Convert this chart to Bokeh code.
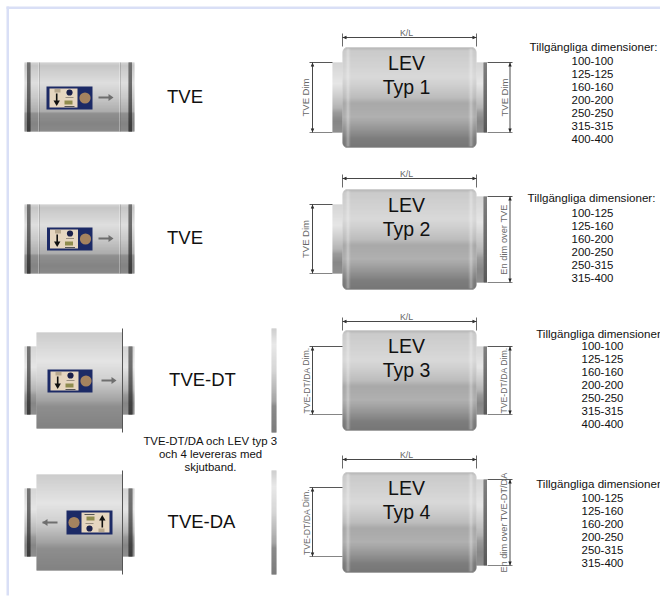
from math import pi, sqrt
from bokeh.plotting import figure
from bokeh.models import Range1d, ColumnDataSource
from bokeh.core.properties import value
from bokeh.embed import file_html
from bokeh.resources import INLINE

# ---- content ----
tve_labels = ["TVE", "TVE", "TVE-DT", "TVE-DA"]
lev_names = ["LEV", "LEV", "LEV", "LEV"]
lev_types = ["Typ 1", "Typ 2", "Typ 3", "Typ 4"]
dim_title = ["Tillgängliga dimensioner:", "Tillgängliga dimensioner:", "Tillgängliga dimensioner", "Tillgängliga dimensioner"]
dims_1 = ["100-100", "125-125", "160-160", "200-200", "250-250", "315-315", "400-400"]
dims_2 = ["100-125", "125-160", "160-200", "200-250", "250-315", "315-400"]
left_dim = ["TVE Dim", "TVE Dim", "TVE-DT/DA Dim.", "TVE-DT/DA Dim."]
right_dim = ["TVE Dim", "En dim over TVE", "TVE-DT/DA Dim.", "En dim over TVE-DT/DA"]
left_size = [9.5, 9.5, 8.7, 8.7]
right_size = [9.5, 9.3, 8.7, 9.2]
note_lines = ["TVE-DT/DA och LEV typ 3", "och 4 levereras med", "skjutband."]

# ---- gradients (pixel-space drawing) ----
TVE_G = [(0, 195), (.04, 180), (.3, 212), (.5, 185), (.72, 145), (.74, 108), (.9, 92), (1, 100)]
LEV_G = [(0, 160), (.03, 185), (.3, 205), (.5, 168), (.56, 140), (.7, 150), (.82, 115), (.92, 82), (1, 75)]
NECK_G = [(0, 200), (.3, 222), (.5, 185), (.65, 155), (.72, 122), (.85, 95), (1, 105)]
BAR_G = [(0, 190), (.15, 225), (.4, 200), (.7, 135), (.75, 100), (1, 80)]
BAND_G = [(0, 85), (.5, 60), (1, 35)]

q = dict(l=[], r=[], t=[], b=[], c=[], a=[])
poly = dict(x=[], y=[], c=[])
seg = dict(x0=[], y0=[], x1=[], y1=[], c=[], w=[])
circ = dict(x=[], y=[], r=[], c=[])
txt = dict(x=[], y=[], s=[], size=[], c=[], angle=[])


def gray(stops, t):
    for (a, ga), (b, gb) in zip(stops, stops[1:]):
        if t <= b:
            g = int(ga + (gb - ga) * (t - a) / max(b - a, 1e-6))
            return f"#{g:02x}{g:02x}{g:02x}"
    g = stops[-1][1]
    return f"#{g:02x}{g:02x}{g:02x}"


def rect(l, r, t, b, c, a=1.0):
    q["l"].append(l); q["r"].append(r); q["t"].append(t); q["b"].append(b); q["c"].append(c); q["a"].append(a)


def grad(l, r, t, b, stops, rad=0):
    n = int(b - t)
    for i in range(n):
        inset = 0
        d = min(i + .5, n - i - .5)
        if rad and d < rad:
            inset = rad - sqrt(rad * rad - (rad - d) ** 2)
        rect(l + inset, r - inset, t + i, t + i + 1, gray(stops, i / max(n - 1, 1)))


def line(x0, y0, x1, y1, c="#3a3a3a", w=1.0):
    seg["x0"].append(x0); seg["y0"].append(y0); seg["x1"].append(x1); seg["y1"].append(y1); seg["c"].append(c); seg["w"].append(w)


def label(x, y, s, size, c="#111111", angle=0.0):
    txt["x"].append(x); txt["y"].append(y); txt["s"].append(s); txt["size"].append(f"{size}px")
    txt["c"].append(c); txt["angle"].append(angle)


def tri(xs, ys, c):
    poly["x"].append(xs); poly["y"].append(ys); poly["c"].append(c)


def controller(x0, y0, w, h, flip=False):
    def X(v): return x0 + (w - v if flip else v)
    def Y(v): return y0 + (h - v if flip else v)
    def box(a, b, c, d, col):
        xa, xb = sorted((X(a), X(b))); ya, yb = sorted((Y(c), Y(d)))
        rect(xa, xb, ya, yb, col)
    box(0, w, 0, h, "#1c2a66")
    box(3, 31, 2, h - 2, "#e6d6c0")
    box(8, 14, 2.5, 6, "#b8a88e")
    box(18, 26, 14, 18, "#8f8c4e")
    box(18, 28, 19.5, 20.5, "#555555")
    box(19, 27, 10.5, 11.5, "#9a8f80")
    box(9.4, 11, 7, 15, "#101010")
    tri([X(7), X(13.4), X(10.2)], [Y(14), Y(14), Y(19.5)], "#101010")
    circ["x"].append(X(23)); circ["y"].append(Y(6)); circ["r"].append(3.1); circ["c"].append("#1a1f4a")
    circ["x"].append(X(38.5)); circ["y"].append(Y(h / 2)); circ["r"].append(5.6); circ["c"].append("#a5835f")


def arrow(x0, x1, y):
    d = 1 if x1 > x0 else -1
    rect(min(x0, x1), max(x0, x1) - (3 if d > 0 else 0), y - .9, y + .9, "#6e6e6e")
    tri([x1, x1 - 5 * d, x1 - 5 * d], [y, y - 3.5, y + 3.5], "#6e6e6e")


def ends(l, r, t, b):
    grad(l + 2.5, l + 6, t, b, BAND_G)
    grad(r - 6, r - 2.5, t, b, BAND_G)


def tve_plain(y0):
    y1 = y0 + 69
    grad(24, 134, y0, y1, TVE_G)
    ends(24, 134, y0, y1)
    for x in (37.5, 118.5):
        rect(x, x + 1, y0, y1, "#ffffff", .3)
        rect(x + 1, x + 2, y0, y1, "#555555", .25)


def tve_big(yb0):
    yb1 = yb0 + 96
    n0, n1 = yb0 + 14, yb1 - 14
    grad(24, 36, n0, n1, NECK_G)
    grad(122, 134, n0, n1, NECK_G)
    grad(26.5, 30, n0, n1, BAND_G)
    grad(128, 132, n0, n1, BAND_G)
    grad(36, 122, yb0, yb1, [(0, 188), (.3, 220), (.5, 192), (.7, 135), (.78, 105), (1, 90)])
    line(122, yb0 - 4, 122, yb1 + 4, "#555555", 1)


def head(x, y, d):
    tri([x, x - 1.7, x + 1.7], [y, y + 4 * d, y + 4 * d], "#1a1a1a")


def vdim(x, y0, y1):
    line(x, y0, x, y1, "#333333", .9)
    head(x, y0, 1)
    head(x, y1, -1)


def lev(k, yb0, ln0, ln1, rn0, rn1, kl_y, lx_text=305, has_left_neck=True):
    yb1 = yb0 + 100
    if has_left_neck:
        grad(332, 342, ln0, ln1, NECK_G)
    grad(476, 483, rn0, rn1, NECK_G)
    grad(483, 486.5, rn0, rn1, BAND_G)
    grad(342, 476, yb0, yb1, LEV_G, rad=5)
    for i, al in enumerate((.1, .22, .38, .22, .1)):
        rect(345 + i, 346 + i, yb0 + 1, yb1 - 1, "#ffffff", al)
        rect(468 + i, 469 + i, yb0 + 1, yb1 - 1, "#ffffff", al)
    line(342, kl_y, 476, kl_y, "#333333", .9)
    line(342, kl_y - 4, 342, kl_y + 9, "#444444", .8)
    line(476, kl_y - 4, 476, kl_y + 9, "#444444", .8)
    tri([342, 346, 346], [kl_y, kl_y - 1.7, kl_y + 1.7], "#1a1a1a")
    tri([476, 472, 472], [kl_y, kl_y - 1.7, kl_y + 1.7], "#1a1a1a")
    label(406, kl_y - 5, "K/L", 8.8, "#666666")
    lx_end = 332 if has_left_neck else 342
    line(309, ln0, lx_end, ln0, "#444444", .9)
    line(309, ln1, lx_end, ln1, "#777777", .9)
    vdim(312, ln0, ln1)
    label(lx_text, (ln0 + ln1) / 2, left_dim[k], left_size[k], "#666666", pi / 2)
    line(487, rn0, 512, rn0, "#444444", .9)
    line(487, rn1, 512, rn1, "#777777", .9)
    vdim(509.5, rn0, rn1)
    label(503.5, (rn0 + rn1) / 2, right_dim[k], right_size[k], "#666666", pi / 2)
    label(406, yb0 + 15.5, lev_names[k], 19.5)
    label(406, yb0 + 39, lev_types[k], 19.5)


def dim_list(title, items, tx, ty, lx, ly):
    label(tx, ty, title, 11.6)
    for i, s in enumerate(items):
        label(lx, ly + i * 13, s, 11.4)


# page edge
rect(6, 660, 6, 8.5, "#d9dff6")
rect(6, 8.5, 6, 595, "#d9dff6")

# left-hand products
tve_plain(62)
controller(46, 86, 46, 23)
arrow(98, 113, 97)
label(184.5, 96, tve_labels[0], 18.5)

tve_plain(204)
controller(46.5, 227, 45.5, 23)
arrow(98, 113, 238)
label(184.5, 237, tve_labels[1], 18.5)

tve_big(332)
controller(47, 369, 45, 23)
arrow(101, 116, 380)
label(202, 379, tve_labels[2], 18.5)
grad(271, 276, 328, 432, BAR_G)

for i, s in enumerate(note_lines):
    label(210, 440 + i * 13, s, 11.4)

tve_big(474)
controller(66, 510, 46, 24, flip=True)
arrow(57, 42, 522)
label(201, 521, tve_labels[3], 18.5)
grad(271, 276, 470, 574, BAR_G)

# LEV products
lev(0, 47, 62, 132, 62, 132, 37)
lev(1, 189, 204, 273, 196, 282, 178)
lev(2, 330, 346, 414, 346, 414, 321, 306, has_left_neck=False)
lev(3, 472, 487, 556, 479, 565, 459, 306, has_left_neck=False)

dim_list(dim_title[0], dims_1, 593, 46, 592, 60)
dim_list(dim_title[1], dims_2, 591, 197, 592, 212)
dim_list(dim_title[2], dims_1, 598, 333, 602, 345)
dim_list(dim_title[3], dims_2, 598, 483, 602, 497)

# ---- figure ----
p = figure(width=660, height=602, output_backend="svg", toolbar_location=None,
           x_range=Range1d(0, 660), y_range=Range1d(602, 0),
           min_border=0, outline_line_color=None, background_fill_color="#ffffff",
           border_fill_color="#ffffff")
p.axis.visible = False
p.grid.visible = False

p.quad(left="l", right="r", top="t", bottom="b", fill_color="c", fill_alpha="a", line_color=None,
       source=ColumnDataSource(q))
p.patches("x", "y", fill_color="c", line_color=None, source=ColumnDataSource(poly))
p.circle("x", "y", radius="r", fill_color="c", line_color=None, source=ColumnDataSource(circ))
p.segment("x0", "y0", "x1", "y1", line_color="c", line_width="w", source=ColumnDataSource(seg))
p.text("x", "y", text="s", text_font=value("Liberation Sans"), text_font_size="size", text_color="c", angle="angle",
       text_align="center", text_baseline="middle", source=ColumnDataSource(txt))

open("out.html", "w").write(file_html(p, INLINE))
